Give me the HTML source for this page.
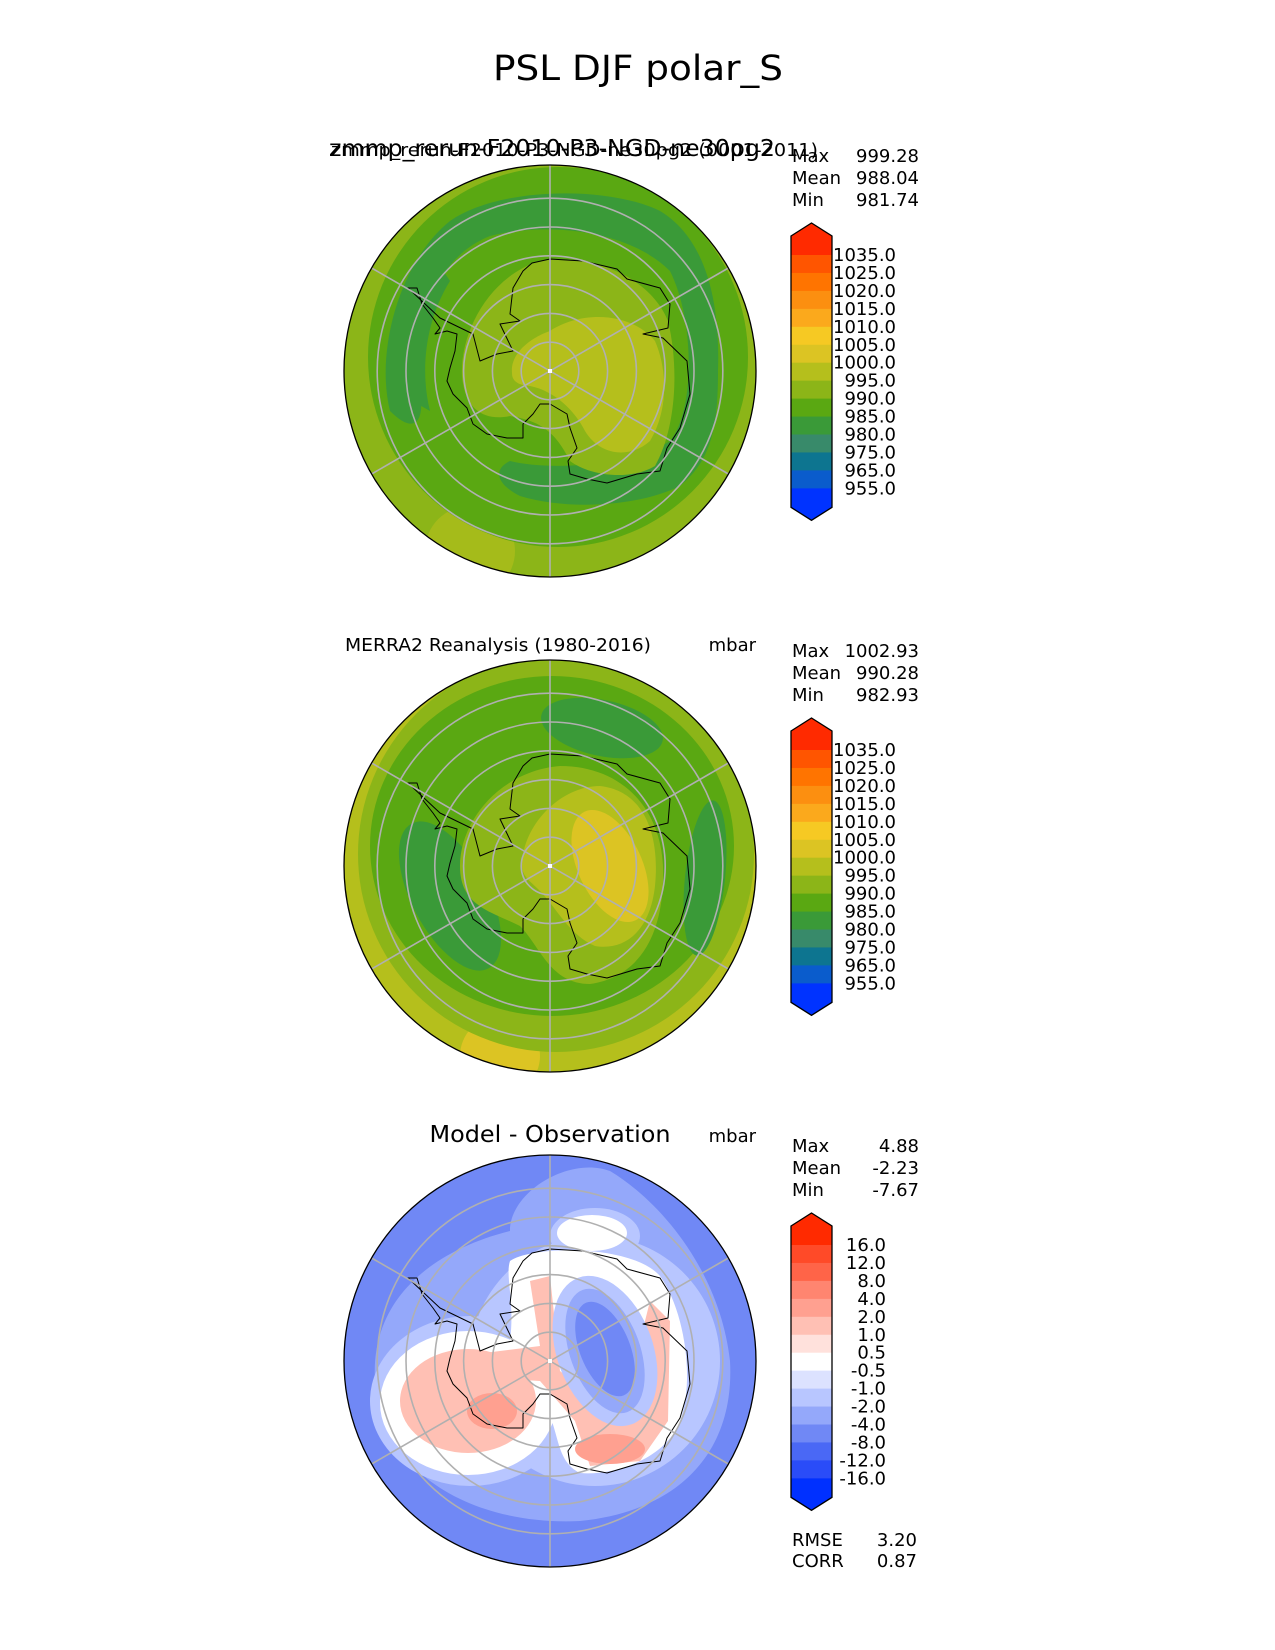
<!DOCTYPE html>
<html><head><meta charset="utf-8"><style>
html,body{margin:0;padding:0;background:#fff;}
svg{display:block;font-family:"DejaVu Sans","Liberation Sans",sans-serif;}
</style></head><body>
<svg id="fig" width="1275" height="1650" viewBox="0 0 1275 1650" xmlns="http://www.w3.org/2000/svg">
<defs>
<clipPath id="clipc"><circle cx="0" cy="0" r="206"/></clipPath>
</defs>
<text x="638" y="80" font-size="35" text-anchor="middle" textLength="290" lengthAdjust="spacingAndGlyphs">PSL DJF polar_S</text>

<text x="552" y="156" font-size="23" text-anchor="middle" textLength="446" lengthAdjust="spacingAndGlyphs">zmmp_rerun-F2010-P3-NGD-ne30pg2</text>
<text x="331" y="156" font-size="18" textLength="487" lengthAdjust="spacingAndGlyphs">zmmp_rerun-F2010-P3-NGD-ne30pg2 (0001-2011)</text>
<text x="345" y="651" font-size="18" textLength="306" lengthAdjust="spacingAndGlyphs">MERRA2 Reanalysis (1980-2016)</text>
<text x="756" y="651" font-size="18" text-anchor="end">mbar</text>
<text x="550" y="1142" font-size="23" text-anchor="middle" textLength="241" lengthAdjust="spacingAndGlyphs">Model - Observation</text>
<text x="756" y="1142" font-size="18" text-anchor="end">mbar</text>

<g transform="translate(550,371)">
 <g clip-path="url(#clipc)">
  <circle r="206" fill="#8cb518"/>
  <circle cx="-80" cy="180" r="45" fill="#b5bf1c" opacity="0.6"/>
  <circle cx="8" cy="-14" r="190" fill="#5aa812"/>
  <path d="M-160,40 C-175,-20 -150,-110 -100,-150 C-50,-185 60,-185 110,-160 C160,-130 170,-60 168,0 C168,60 160,90 130,115 C90,135 20,140 -30,125 C-50,115 -60,100 -40,90 C0,100 80,95 120,70 C145,40 145,-50 120,-100 C80,-140 0,-150 -60,-135 C-110,-115 -135,-60 -130,20 C-125,50 -135,65 -160,40 Z" fill="#3a9a38"/>
  <path d="M-155,20 C-165,-30 -150,-90 -120,-120 L-100,-90 C-125,-50 -130,0 -120,40 Z" fill="#3a9a38"/>
  <path d="M-88,5 C-90,-40 -60,-95 -10,-110 C40,-118 100,-95 118,-50 C130,0 125,60 105,95 C80,110 40,105 20,90 C5,60 -10,50 -40,45 C-65,50 -85,40 -88,5 Z" fill="#8cb518"/>
  <path d="M-38,2 C-40,-20 -15,-35 0,-40 C30,-60 80,-60 105,-30 C118,0 118,40 100,70 C80,88 50,85 35,60 C25,40 5,20 -20,15 C-35,14 -38,8 -38,2 Z" fill="#b5bf1c"/>
 </g>
</g>

<g transform="translate(550,866)">
 <g clip-path="url(#clipc)">
  <circle r="206" fill="#b5bf1c"/>
  <circle cx="-50" cy="190" r="40" fill="#dcc423"/>
  <circle cx="6" cy="-12" r="198" fill="#8cb518"/>
  <ellipse cx="2" cy="-20" rx="182" ry="170" fill="#5aa812"/>
  <ellipse cx="52" cy="-138" rx="62" ry="28" transform="rotate(12 52 -138)" fill="#3a9a38"/>
  <ellipse cx="-100" cy="30" rx="38" ry="82" transform="rotate(-28 -100 30)" fill="#3a9a38"/>
  <ellipse cx="155" cy="12" rx="20" ry="78" transform="rotate(6 155 12)" fill="#3a9a38"/>
  <path d="M-90,0 C-90,-45 -50,-95 10,-100 C70,-100 110,-60 113,0 C115,60 95,110 40,118 C0,118 -10,80 -30,60 C-60,45 -90,40 -90,0 Z" fill="#8cb518"/>
  <path d="M-28,0 C-28,-40 10,-80 50,-80 C95,-75 110,-30 105,20 C100,65 75,85 45,80 C20,70 5,40 -10,25 C-20,15 -28,10 -28,0 Z" fill="#b5bf1c"/>
  <ellipse cx="60" cy="0" rx="32" ry="60" transform="rotate(-25 60 0)" fill="#dcc423"/>
 </g>
</g>

<g transform="translate(550,1361)">
 <g clip-path="url(#clipc)">
  <circle r="206" fill="#7088f5"/>
  <path d="M-175,20 C-180,-60 -120,-110 -40,-130 C-40,-170 20,-205 60,-190 C110,-160 170,-90 180,0 C185,90 130,150 30,160 C-80,165 -170,110 -175,20 Z" fill="#94a8fa"/>
  <ellipse cx="-80" cy="40" rx="100" ry="85" fill="#b8c6ff"/>
  <ellipse cx="45" cy="-125" rx="45" ry="28" fill="#b8c6ff"/>
  <ellipse cx="45" cy="0" rx="125" ry="125" fill="#b8c6ff"/>
  <ellipse cx="-82" cy="42" rx="88" ry="72" fill="#ffffff"/>
  <ellipse cx="42" cy="-128" rx="35" ry="18" fill="#ffffff"/>
  <path d="M-40,-100 C-20,-115 80,-118 110,-85 C135,-50 145,20 130,60 C115,100 60,115 30,112 C5,100 10,70 -5,45 C-30,30 -90,20 -95,0 C-95,-15 -60,-10 -40,-20 C-35,-60 -45,-85 -40,-100 Z" fill="#ffffff"/>
  <ellipse cx="-82" cy="40" rx="68" ry="52" fill="#ffc0b4"/>
  <ellipse cx="-58" cy="50" rx="25" ry="18" fill="#ffa090"/>
  <path d="M-90,-5 L-10,-15 L-20,-80 L0,-85 L10,10 L70,60 L100,-60 L120,-40 L118,60 L90,100 L40,105 L25,60 L-10,20 L-90,15 Z" fill="#ffc0b4"/>
  <ellipse cx="60" cy="88" rx="35" ry="15" fill="#ffa090"/>
  <ellipse cx="55" cy="-10" rx="48" ry="78" transform="rotate(-20 55 -10)" fill="#b8c6ff"/>
  <ellipse cx="55" cy="-10" rx="35" ry="65" transform="rotate(-20 55 -10)" fill="#94a8fa"/>
  <ellipse cx="55" cy="-12" rx="25" ry="50" transform="rotate(-22 55 -12)" fill="#7088f5"/>
 </g>
</g>

<g id="overlays"></g>
<g id="colorbars"></g>

<g font-size="18">
 <text x="792" y="162">Max</text><text x="919" y="162" text-anchor="end">999.28</text>
 <text x="792" y="184">Mean</text><text x="919" y="184" text-anchor="end">988.04</text>
 <text x="792" y="206">Min</text><text x="919" y="206" text-anchor="end">981.74</text>
</g>
<g font-size="18">
 <text x="792" y="657">Max</text><text x="919" y="657" text-anchor="end">1002.93</text>
 <text x="792" y="679">Mean</text><text x="919" y="679" text-anchor="end">990.28</text>
 <text x="792" y="701">Min</text><text x="919" y="701" text-anchor="end">982.93</text>
</g>
<g font-size="18">
 <text x="792" y="1152">Max</text><text x="919" y="1152" text-anchor="end">4.88</text>
 <text x="792" y="1174">Mean</text><text x="919" y="1174" text-anchor="end">-2.23</text>
 <text x="792" y="1196">Min</text><text x="919" y="1196" text-anchor="end">-7.67</text>
 <text x="792" y="1546">RMSE</text><text x="917" y="1546" text-anchor="end">3.20</text>
 <text x="792" y="1567">CORR</text><text x="917" y="1567" text-anchor="end">0.87</text>
</g>
</svg>
<script>
const absLevels = ["1035.0","1025.0","1020.0","1015.0","1010.0","1005.0","1000.0","995.0","990.0","985.0","980.0","975.0","965.0","955.0"];
const absColors = ["#ff2a00","#ff5500","#ff7400","#fc8f10","#fba91c","#f6c923","#dcc423","#b5bf1c","#8cb518","#5aa812","#3a9a38","#388a6a","#0d7590","#0a5ccc","#0033ff"];
const diffLevels = ["16.0","12.0","8.0","4.0","2.0","1.0","0.5","-0.5","-1.0","-2.0","-4.0","-8.0","-12.0","-16.0"];
const diffColors = ["#ff2a00","#ff4a28","#ff6448","#ff8570","#ffa090","#ffc0b4","#ffe1dc","#ffffff","#dce2ff","#b8c6ff","#94a8fa","#7088f5","#4a68f5","#2a4cf8","#0030ff"];
const coast = [[-142,-83],[-110,-53],[-77,-37],[-70,-10],[-53,-17],[-37,-20],[-50,-47],[-30,-50],[-40,-57],[-37,-83],[-27,-100],[-18,-108],[0,-112],[33,-110],[67,-102],[77,-92],[110,-83],[120,-67],[118,-43],[93,-37],[113,-33],[137,-10],[140,23],[130,57],[117,77],[110,100],[87,103],[57,112],[37,108],[20,103],[18,90],[27,77],[20,57],[17,43],[0,33],[-10,33],[-17,43],[-27,53],[-27,67],[-43,67],[-63,63],[-77,53],[-83,37],[-97,23],[-103,10],[-100,-3],[-95,-20],[-93,-37],[-103,-40],[-115,-37],[-110,-43],[-117,-53],[-128,-67],[-133,-83]];
const ringLats = [80,70,60,50,40,30];
const meridianDeg = [30,90,150];

const NS="http://www.w3.org/2000/svg";
const R=206;
function rOfLat(lat){return (90-lat)*28.8/10;}
function mk(tag,attrs,parent){const e=document.createElementNS(NS,tag);for(const k in attrs)e.setAttribute(k,attrs[k]);parent.appendChild(e);return e;}

const ov=document.getElementById('overlays');
[371,866,1361].forEach((cy,pi)=>{
  const g=mk('g',{transform:'translate(550,'+cy+')'},ov);
  
  
  const cp=mk('path',{d:'M'+coast.map(p=>p[0]+','+p[1]).join(' L')+' Z',fill:'none',stroke:'#000','stroke-width':'1','stroke-linejoin':'round'},g);
  
  
  ringLats.forEach(lat=>{
    const c=mk('circle',{r:rOfLat(lat),fill:'none',stroke:'#b0b0b0','stroke-width':'1.6'},g);
    
    
  });
  meridianDeg.forEach(d=>{
    const a=d*Math.PI/180;
    const l=mk('line',{x1:R*Math.cos(a),y1:-R*Math.sin(a),x2:-R*Math.cos(a),y2:R*Math.sin(a),stroke:'#b0b0b0','stroke-width':'1.6'},g);
    
    
  });
  const d=mk('rect',{x:-2,y:-2,width:4,height:4,fill:'#fff'},g);
  
  
  const b=mk('circle',{r:R,fill:'none',stroke:'#000','stroke-width':'1.3'},g);
  
  
});

const cb=document.getElementById('colorbars');
function colorbar(y0,levels,colors,labelX,name){
  const g=mk('g',{},cb);
  
  
  const x0=791,x1=832,step=17.95,first=y0+32,last=first+step*(levels.length-1);
  const top=y0+13,bot=last+19,tipB=bot+13;
  const t=mk('path',{d:`M${x0},${first} L${x0},${top} L${(x0+x1)/2},${y0} L${x1},${top} L${x1},${first} Z`,fill:colors[0]},g);
  
  
  for(let i=0;i<levels.length-1;i++){
    const r=mk('rect',{x:x0,y:first+step*i,width:x1-x0,height:step+0.6,fill:colors[i+1]},g);
    
    
  }
  const bt=mk('path',{d:`M${x0},${last} L${x0},${bot} L${(x0+x1)/2},${tipB} L${x1},${bot} L${x1},${last} Z`,fill:colors[colors.length-1]},g);
  
  
  mk('path',{d:`M${x0},${top} L${(x0+x1)/2},${y0} L${x1},${top} L${x1},${bot} L${(x0+x1)/2},${tipB} L${x0},${bot} Z`,fill:'none',stroke:'#000','stroke-width':'1.3'},g);
  levels.forEach((lv,i)=>{
    const tx=mk('text',{x:labelX,y:first+step*i+6,'font-size':'18','text-anchor':'end'},g);
    tx.textContent=lv;
    
    
  });
}
colorbar(223,absLevels,absColors,896,'model-colorbar');
colorbar(718,absLevels,absColors,896,'obs-colorbar');
colorbar(1213,diffLevels,diffColors,886,'diff-colorbar');
</script>
</body></html>
